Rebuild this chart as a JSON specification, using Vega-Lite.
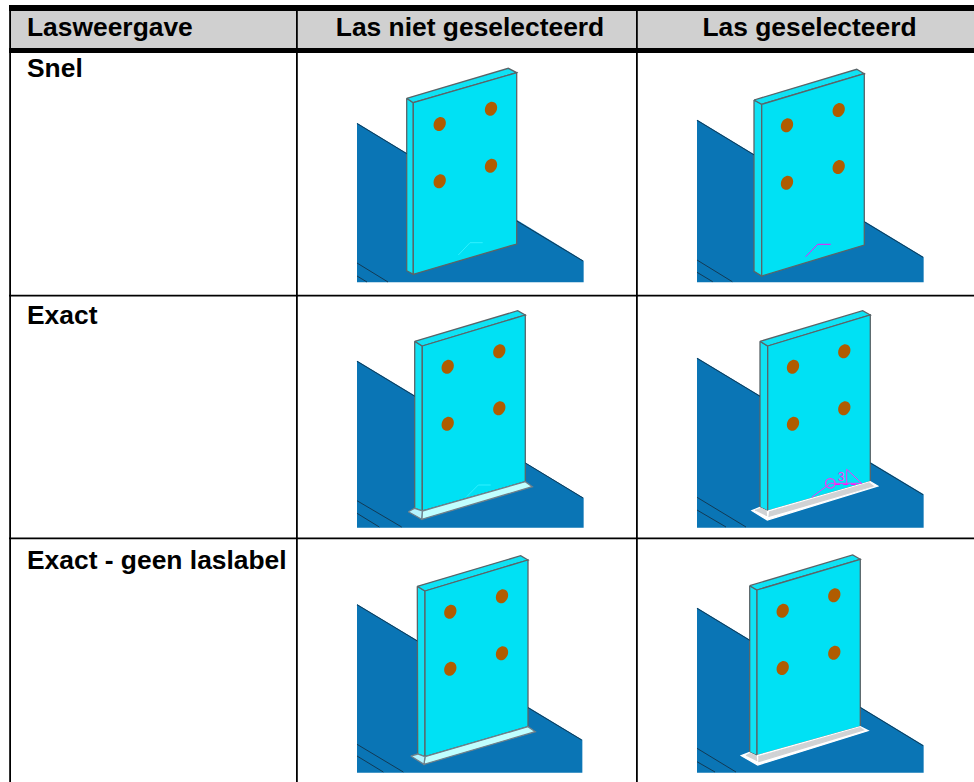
{"$schema":"https://vega.github.io/schema/vega-lite/v6.json","autosize":{"type":"fit","contains":"padding"},"width":974,"height":782,"padding":0,"background":"white","view":{"stroke":null},
"resolve":{"scale":{"fill":"independent","stroke":"independent","color":"independent"}},
"datasets":{
"cells":[
{"part":"kop","x":9,"x2":974,"y":11,"y2":48},
{"part":"lijn","x":9,"x2":974,"y":5,"y2":11},
{"part":"lijn","x":9,"x2":974,"y":48,"y2":53},
{"part":"lijn","x":9,"x2":974,"y":294.7,"y2":296.5},
{"part":"lijn","x":9,"x2":974,"y":537.5,"y2":539.3},
{"part":"lijn","x":9.2,"x2":11,"y":5,"y2":782},
{"part":"lijn","x":296,"x2":297.8,"y":5,"y2":782},
{"part":"lijn","x":636,"x2":637.8,"y":5,"y2":782}
],
"polys":[
{"id":"A0","part":"basis","i":0,"x":357,"y":123.5},{"id":"A0","part":"basis","i":1,"x":583,"y":261},{"id":"A0","part":"basis","i":2,"x":583,"y":281.7},{"id":"A0","part":"basis","i":3,"x":357,"y":281.7},
{"id":"A1","part":"zijkant","i":0,"x":406.7,"y":98.3},{"id":"A1","part":"zijkant","i":1,"x":413.3,"y":102.7},{"id":"A1","part":"zijkant","i":2,"x":413.3,"y":274.3},{"id":"A1","part":"zijkant","i":3,"x":406.7,"y":270.7},{"id":"A1","part":"zijkant","i":4,"x":406.7,"y":98.3},
{"id":"A2","part":"bovenkant","i":0,"x":406.7,"y":98.3},{"id":"A2","part":"bovenkant","i":1,"x":508.3,"y":68.3},{"id":"A2","part":"bovenkant","i":2,"x":516.7,"y":72.7},{"id":"A2","part":"bovenkant","i":3,"x":413.3,"y":102.7},{"id":"A2","part":"bovenkant","i":4,"x":406.7,"y":98.3},
{"id":"A3","part":"voorkant","i":0,"x":413.3,"y":102.7},{"id":"A3","part":"voorkant","i":1,"x":516.7,"y":72.7},{"id":"A3","part":"voorkant","i":2,"x":516.7,"y":244},{"id":"A3","part":"voorkant","i":3,"x":413.3,"y":274.3},{"id":"A3","part":"voorkant","i":4,"x":413.3,"y":102.7},

{"id":"B0","part":"basis","i":0,"x":697,"y":120.3},{"id":"B0","part":"basis","i":1,"x":923,"y":257.3},{"id":"B0","part":"basis","i":2,"x":923,"y":281.7},{"id":"B0","part":"basis","i":3,"x":697,"y":281.7},
{"id":"B1","part":"zijkant","i":0,"x":754,"y":100},{"id":"B1","part":"zijkant","i":1,"x":761.7,"y":104.3},{"id":"B1","part":"zijkant","i":2,"x":761.7,"y":276},{"id":"B1","part":"zijkant","i":3,"x":754,"y":271.3},{"id":"B1","part":"zijkant","i":4,"x":754,"y":100},
{"id":"B2","part":"bovenkant","i":0,"x":754,"y":100},{"id":"B2","part":"bovenkant","i":1,"x":856.7,"y":69.3},{"id":"B2","part":"bovenkant","i":2,"x":864.3,"y":73.7},{"id":"B2","part":"bovenkant","i":3,"x":761.7,"y":104.3},{"id":"B2","part":"bovenkant","i":4,"x":754,"y":100},
{"id":"B3","part":"voorkant","i":0,"x":761.7,"y":104.3},{"id":"B3","part":"voorkant","i":1,"x":864.3,"y":73.7},{"id":"B3","part":"voorkant","i":2,"x":864.3,"y":245},{"id":"B3","part":"voorkant","i":3,"x":761.7,"y":276},{"id":"B3","part":"voorkant","i":4,"x":761.7,"y":104.3},

{"id":"C0","part":"basis","i":0,"x":357,"y":361.3},{"id":"C0","part":"basis","i":1,"x":583,"y":498},{"id":"C0","part":"basis","i":2,"x":583,"y":527},{"id":"C0","part":"basis","i":3,"x":357,"y":527},
{"id":"C1","part":"zijkant","i":0,"x":414.7,"y":341.3},{"id":"C1","part":"zijkant","i":1,"x":422.3,"y":346},{"id":"C1","part":"zijkant","i":2,"x":422.3,"y":511},{"id":"C1","part":"zijkant","i":3,"x":414.7,"y":508.3},{"id":"C1","part":"zijkant","i":4,"x":414.7,"y":341.3},
{"id":"C2","part":"bovenkant","i":0,"x":414.7,"y":341.3},{"id":"C2","part":"bovenkant","i":1,"x":517.7,"y":310.7},{"id":"C2","part":"bovenkant","i":2,"x":525.3,"y":315},{"id":"C2","part":"bovenkant","i":3,"x":422.3,"y":346},{"id":"C2","part":"bovenkant","i":4,"x":414.7,"y":341.3},
{"id":"C3","part":"voorkant","i":0,"x":422.3,"y":346},{"id":"C3","part":"voorkant","i":1,"x":525.3,"y":315},{"id":"C3","part":"voorkant","i":2,"x":525.3,"y":481.7},{"id":"C3","part":"voorkant","i":3,"x":422.3,"y":511},{"id":"C3","part":"voorkant","i":4,"x":422.3,"y":346},
{"id":"C4","part":"las","i":0,"x":422.3,"y":511},{"id":"C4","part":"las","i":1,"x":525.3,"y":481.7},{"id":"C4","part":"las","i":2,"x":532.3,"y":486.7},{"id":"C4","part":"las","i":3,"x":421.7,"y":519.3},{"id":"C4","part":"las","i":4,"x":422.3,"y":511},
{"id":"C5","part":"lasrand","i":0,"x":408.3,"y":511.7},{"id":"C5","part":"lasrand","i":1,"x":414.7,"y":508.3},{"id":"C5","part":"lasrand","i":2,"x":422.3,"y":511},{"id":"C5","part":"lasrand","i":3,"x":421.7,"y":519.3},{"id":"C5","part":"lasrand","i":4,"x":408.3,"y":511.7},

{"id":"D0","part":"basis","i":0,"x":697,"y":358.3},{"id":"D0","part":"basis","i":1,"x":923,"y":494.7},{"id":"D0","part":"basis","i":2,"x":923,"y":527},{"id":"D0","part":"basis","i":3,"x":697,"y":527},
{"id":"D1","part":"zijkant","i":0,"x":760,"y":341.3},{"id":"D1","part":"zijkant","i":1,"x":767.7,"y":346},{"id":"D1","part":"zijkant","i":2,"x":767.7,"y":511},{"id":"D1","part":"zijkant","i":3,"x":760,"y":507.3},{"id":"D1","part":"zijkant","i":4,"x":760,"y":341.3},
{"id":"D2","part":"bovenkant","i":0,"x":760,"y":341.3},{"id":"D2","part":"bovenkant","i":1,"x":862.7,"y":310.7},{"id":"D2","part":"bovenkant","i":2,"x":870.3,"y":315},{"id":"D2","part":"bovenkant","i":3,"x":767.7,"y":346},{"id":"D2","part":"bovenkant","i":4,"x":760,"y":341.3},
{"id":"D3","part":"voorkant","i":0,"x":767.7,"y":346},{"id":"D3","part":"voorkant","i":1,"x":870.3,"y":315},{"id":"D3","part":"voorkant","i":2,"x":870.3,"y":481.7},{"id":"D3","part":"voorkant","i":3,"x":767.7,"y":511},{"id":"D3","part":"voorkant","i":4,"x":767.7,"y":346},
{"id":"D4","part":"laswit","i":0,"x":767.7,"y":511},{"id":"D4","part":"laswit","i":1,"x":870.3,"y":481.7},{"id":"D4","part":"laswit","i":2,"x":877.7,"y":486},{"id":"D4","part":"laswit","i":3,"x":767.3,"y":520},{"id":"D4","part":"laswit","i":4,"x":752,"y":510.7},{"id":"D4","part":"laswit","i":5,"x":760,"y":507.3},
{"id":"D5","part":"lasgrijs","i":0,"x":769,"y":512},{"id":"D5","part":"lasgrijs","i":1,"x":869,"y":483},{"id":"D5","part":"lasgrijs","i":2,"x":873,"y":486},{"id":"D5","part":"lasgrijs","i":3,"x":768.5,"y":516.5},
{"id":"D6","part":"lasgrijs","i":0,"x":755,"y":510.5},{"id":"D6","part":"lasgrijs","i":1,"x":761,"y":508.5},{"id":"D6","part":"lasgrijs","i":2,"x":766,"y":511},{"id":"D6","part":"lasgrijs","i":3,"x":766.5,"y":516},

{"id":"E0","part":"basis","i":0,"x":357,"y":604.7},{"id":"E0","part":"basis","i":1,"x":581.7,"y":740},{"id":"E0","part":"basis","i":2,"x":581.7,"y":772},{"id":"E0","part":"basis","i":3,"x":357,"y":772},
{"id":"E1","part":"zijkant","i":0,"x":417.3,"y":586.3},{"id":"E1","part":"zijkant","i":1,"x":425,"y":591},{"id":"E1","part":"zijkant","i":2,"x":425,"y":756.7},{"id":"E1","part":"zijkant","i":3,"x":417.7,"y":754},{"id":"E1","part":"zijkant","i":4,"x":417.3,"y":586.3},
{"id":"E2","part":"bovenkant","i":0,"x":417.3,"y":586.3},{"id":"E2","part":"bovenkant","i":1,"x":520.7,"y":555.7},{"id":"E2","part":"bovenkant","i":2,"x":528,"y":560},{"id":"E2","part":"bovenkant","i":3,"x":425,"y":591},{"id":"E2","part":"bovenkant","i":4,"x":417.3,"y":586.3},
{"id":"E3","part":"voorkant","i":0,"x":425,"y":591},{"id":"E3","part":"voorkant","i":1,"x":528,"y":560},{"id":"E3","part":"voorkant","i":2,"x":528,"y":726.7},{"id":"E3","part":"voorkant","i":3,"x":425,"y":756.7},{"id":"E3","part":"voorkant","i":4,"x":425,"y":591},
{"id":"E4","part":"las","i":0,"x":425,"y":756.7},{"id":"E4","part":"las","i":1,"x":528,"y":726.7},{"id":"E4","part":"las","i":2,"x":535.3,"y":731.7},{"id":"E4","part":"las","i":3,"x":424,"y":764.3},{"id":"E4","part":"las","i":4,"x":425,"y":756.7},
{"id":"E5","part":"lasrand","i":0,"x":410.7,"y":756},{"id":"E5","part":"lasrand","i":1,"x":417.7,"y":754},{"id":"E5","part":"lasrand","i":2,"x":425,"y":756.7},{"id":"E5","part":"lasrand","i":3,"x":424,"y":764.3},{"id":"E5","part":"lasrand","i":4,"x":410.7,"y":756},

{"id":"F0","part":"basis","i":0,"x":697,"y":608.3},{"id":"F0","part":"basis","i":1,"x":923,"y":745.7},{"id":"F0","part":"basis","i":2,"x":923,"y":772},{"id":"F0","part":"basis","i":3,"x":697,"y":772},
{"id":"F1","part":"zijkant","i":0,"x":749.7,"y":585.7},{"id":"F1","part":"zijkant","i":1,"x":757,"y":590},{"id":"F1","part":"zijkant","i":2,"x":757,"y":755.7},{"id":"F1","part":"zijkant","i":3,"x":749.7,"y":752.3},{"id":"F1","part":"zijkant","i":4,"x":749.7,"y":585.7},
{"id":"F2","part":"bovenkant","i":0,"x":749.7,"y":585.7},{"id":"F2","part":"bovenkant","i":1,"x":852.7,"y":555},{"id":"F2","part":"bovenkant","i":2,"x":860.3,"y":559.3},{"id":"F2","part":"bovenkant","i":3,"x":757,"y":590},{"id":"F2","part":"bovenkant","i":4,"x":749.7,"y":585.7},
{"id":"F3","part":"voorkant","i":0,"x":757,"y":590},{"id":"F3","part":"voorkant","i":1,"x":860.3,"y":559.3},{"id":"F3","part":"voorkant","i":2,"x":860.3,"y":726.7},{"id":"F3","part":"voorkant","i":3,"x":757,"y":755.7},{"id":"F3","part":"voorkant","i":4,"x":757,"y":590},
{"id":"F4","part":"laswit","i":0,"x":757,"y":755.7},{"id":"F4","part":"laswit","i":1,"x":860.3,"y":726.7},{"id":"F4","part":"laswit","i":2,"x":868,"y":730.7},{"id":"F4","part":"laswit","i":3,"x":757.7,"y":765},{"id":"F4","part":"laswit","i":4,"x":741.3,"y":755.7},{"id":"F4","part":"laswit","i":5,"x":749.7,"y":752.3},
{"id":"F5","part":"lasgrijs","i":0,"x":758.3,"y":756.7},{"id":"F5","part":"lasgrijs","i":1,"x":860,"y":727.7},{"id":"F5","part":"lasgrijs","i":2,"x":863.3,"y":730},{"id":"F5","part":"lasgrijs","i":3,"x":758.3,"y":761.7},
{"id":"F6","part":"lasgrijs","i":0,"x":746,"y":755.7},{"id":"F6","part":"lasgrijs","i":1,"x":750,"y":753.7},{"id":"F6","part":"lasgrijs","i":2,"x":756,"y":756},{"id":"F6","part":"lasgrijs","i":3,"x":756.7,"y":761}
],
"edges":[
{"id":"a","part":"zwart","i":0,"x":357,"y":123.5},{"id":"a","part":"zwart","i":1,"x":406.7,"y":153.7},
{"id":"a1","part":"zwart","i":0,"x":516.7,"y":221},{"id":"a1","part":"zwart","i":1,"x":583,"y":261},
{"id":"a2","part":"zwart","i":0,"x":357,"y":263},{"id":"a2","part":"zwart","i":1,"x":388,"y":282},
{"id":"a3","part":"zwart","i":0,"x":357,"y":276},{"id":"a3","part":"zwart","i":1,"x":367,"y":282},
{"id":"b","part":"zwart","i":0,"x":697,"y":120.3},{"id":"b","part":"zwart","i":1,"x":754,"y":154.9},
{"id":"b1","part":"zwart","i":0,"x":864.3,"y":221.8},{"id":"b1","part":"zwart","i":1,"x":923,"y":257.3},
{"id":"b2","part":"zwart","i":0,"x":697,"y":260},{"id":"b2","part":"zwart","i":1,"x":732.3,"y":281.7},
{"id":"b3","part":"zwart","i":0,"x":697,"y":272.3},{"id":"b3","part":"zwart","i":1,"x":712.7,"y":281.7},
{"id":"c","part":"zwart","i":0,"x":357,"y":361.3},{"id":"c","part":"zwart","i":1,"x":414.7,"y":396.2},
{"id":"c1","part":"zwart","i":0,"x":525.3,"y":463},{"id":"c1","part":"zwart","i":1,"x":583,"y":498},
{"id":"c2","part":"zwart","i":0,"x":357,"y":500.7},{"id":"c2","part":"zwart","i":1,"x":401.7,"y":527},
{"id":"c3","part":"zwart","i":0,"x":357,"y":513.3},{"id":"c3","part":"zwart","i":1,"x":379.3,"y":527},
{"id":"d","part":"zwart","i":0,"x":697,"y":358.3},{"id":"d","part":"zwart","i":1,"x":760,"y":396.3},
{"id":"d1","part":"zwart","i":0,"x":870.3,"y":463},{"id":"d1","part":"zwart","i":1,"x":923,"y":494.7},
{"id":"d2","part":"zwart","i":0,"x":697,"y":497.3},{"id":"d2","part":"zwart","i":1,"x":746,"y":527},
{"id":"d3","part":"zwart","i":0,"x":697,"y":510},{"id":"d3","part":"zwart","i":1,"x":726,"y":527},
{"id":"e","part":"zwart","i":0,"x":357,"y":604.7},{"id":"e","part":"zwart","i":1,"x":417.3,"y":641},
{"id":"e1","part":"zwart","i":0,"x":528,"y":707.7},{"id":"e1","part":"zwart","i":1,"x":581.7,"y":740},
{"id":"e2","part":"zwart","i":0,"x":357,"y":744.3},{"id":"e2","part":"zwart","i":1,"x":403.3,"y":772},
{"id":"e3","part":"zwart","i":0,"x":357,"y":756},{"id":"e3","part":"zwart","i":1,"x":383.3,"y":772},
{"id":"f","part":"zwart","i":0,"x":697,"y":608.3},{"id":"f","part":"zwart","i":1,"x":749.7,"y":640.3},
{"id":"f1","part":"zwart","i":0,"x":860.3,"y":707.5},{"id":"f1","part":"zwart","i":1,"x":923,"y":745.7},
{"id":"f2","part":"zwart","i":0,"x":697,"y":748.3},{"id":"f2","part":"zwart","i":1,"x":736,"y":772},
{"id":"f3","part":"zwart","i":0,"x":697,"y":761.7},{"id":"f3","part":"zwart","i":1,"x":715,"y":772},
{"id":"g","part":"cyaan","i":0,"x":458.3,"y":255},{"id":"g","part":"cyaan","i":1,"x":470,"y":242.7},{"id":"g","part":"cyaan","i":2,"x":482.7,"y":242.7},
{"id":"h","part":"cyaan","i":0,"x":466.7,"y":496.7},{"id":"h","part":"cyaan","i":1,"x":478.3,"y":485},{"id":"h","part":"cyaan","i":2,"x":490.7,"y":485},
{"id":"i","part":"magenta","i":0,"x":805.7,"y":256.7},{"id":"i","part":"magenta","i":1,"x":817.7,"y":244.3},{"id":"i","part":"magenta","i":2,"x":830.7,"y":244.3},
{"id":"j","part":"magentadun","i":0,"x":811.7,"y":497.3},{"id":"j","part":"magentadun","i":1,"x":830.3,"y":483.3},{"id":"j","part":"magentadun","i":2,"x":861.7,"y":483.3},{"id":"j","part":"magentadun","i":3,"x":846.7,"y":469.3},{"id":"j","part":"magentadun","i":4,"x":846.7,"y":483.3},
{"id":"k","part":"magenta","i":0,"x":835,"y":484.5},{"id":"k","part":"magenta","i":1,"x":840,"y":484.5},
{"id":"l","part":"magenta","i":0,"x":843,"y":484.5},{"id":"l","part":"magenta","i":1,"x":848,"y":484.5},
{"id":"m","part":"magenta","i":0,"x":851,"y":484.5},{"id":"m","part":"magenta","i":1,"x":856,"y":484.5}
],
"holes":[
{"x":439.7,"y":124},{"x":491,"y":108.7},{"x":439.7,"y":181.3},{"x":491,"y":165.7},
{"x":787,"y":125.3},{"x":838.7,"y":110},{"x":787,"y":182.7},{"x":838.7,"y":167},
{"x":447.7,"y":366.7},{"x":499.3,"y":351.3},{"x":447.7,"y":423.7},{"x":499.3,"y":408.3},
{"x":793,"y":366.7},{"x":844.3,"y":351.3},{"x":793,"y":423.7},{"x":844.3,"y":408.3},
{"x":450.3,"y":611.7},{"x":502,"y":596.3},{"x":450.3,"y":668.7},{"x":502,"y":653.3},
{"x":782.7,"y":610.7},{"x":834.3,"y":595.3},{"x":782.7,"y":668},{"x":834.3,"y":652.7}
],
"heads":[{"t":"Las niet geselecteerd","x":470,"y":36},{"t":"Las geselecteerd","x":809.5,"y":36}],
"labels":[{"t":"Lasweergave","x":27,"y":36},{"t":"Snel","x":27,"y":77},{"t":"Exact","x":27,"y":323.5},{"t":"Exact - geen laslabel","x":27,"y":569}],
"weld":[{"t":"3","x":841,"y":481}],
"circ":[{"x":830.3,"y":483.3}]
},
"layer":[
{"data":{"name":"cells"},"mark":{"type":"rect"},"encoding":{
"x":{"field":"x","type":"quantitative","scale":{"domain":[0,974],"nice":false,"zero":false},"axis":null},"x2":{"field":"x2"},
"y":{"field":"y","type":"quantitative","scale":{"domain":[782,0],"nice":false,"zero":false},"axis":null},"y2":{"field":"y2"},
"fill":{"field":"part","type":"nominal","legend":null,"scale":{"domain":["kop","lijn"],"range":["#d0d0d0","#000000"]}}}},
{"data":{"name":"polys"},"mark":{"type":"line","strokeWidth":1.3,"interpolate":"linear"},"encoding":{
"x":{"field":"x","type":"quantitative","axis":null},
"y":{"field":"y","type":"quantitative","axis":null},
"detail":{"field":"id"},"order":{"field":"i"},
"fill":{"field":"part","type":"nominal","legend":null,"scale":{"domain":["basis","zijkant","bovenkant","voorkant","las","lasrand","laswit","lasgrijs"],"range":["#0a75b5","#0fe2f4","#0fe2f4","#00e1f4","#c0ffff","#b4f4ff","#ffffff","#d0d2d4"]}},
"stroke":{"field":"part","type":"nominal","legend":null,"scale":{"domain":["basis","zijkant","bovenkant","voorkant","las","lasrand","laswit","lasgrijs"],"range":["#0a75b5","#5a6468","#5a6468","#5a6468","#70808a","#70808a","#ffffff","#d0d2d4"]}}}},
{"data":{"name":"edges"},"mark":{"type":"line","interpolate":"linear"},"encoding":{
"x":{"field":"x","type":"quantitative","axis":null},
"y":{"field":"y","type":"quantitative","axis":null},
"detail":{"field":"id"},"order":{"field":"i"},
"color":{"field":"part","type":"nominal","legend":null,"scale":{"domain":["zwart","cyaan","magenta","magentadun"],"range":["#123a55","#30f0ff","#ff10f8","#ff30f0"]}},
"strokeWidth":{"field":"part","type":"nominal","legend":null,"scale":{"domain":["zwart","cyaan","magenta","magentadun"],"range":[1,1,2,1.3]}}}},
{"data":{"name":"holes"},"mark":{"type":"point","filled":true,"color":"#b05c00","opacity":1,"size":205,"shape":"M -0.42 0.906 A 1 0.78 -65 1 1 0.42 -0.906 A 1 0.78 -65 1 1 -0.42 0.906 Z"},"encoding":{
"x":{"field":"x","type":"quantitative","axis":null},
"y":{"field":"y","type":"quantitative","axis":null}}},
{"data":{"name":"circ"},"mark":{"type":"point","filled":false,"color":"#ff30f0","opacity":1,"size":90,"shape":"circle","strokeWidth":1.3},"encoding":{
"x":{"field":"x","type":"quantitative","axis":null},
"y":{"field":"y","type":"quantitative","axis":null}}},
{"data":{"name":"heads"},"mark":{"type":"text","font":"Liberation Sans","fontWeight":"bold","fontSize":26.4,"align":"center","baseline":"alphabetic","color":"#000000"},"encoding":{
"x":{"field":"x","type":"quantitative","axis":null},
"y":{"field":"y","type":"quantitative","axis":null},
"text":{"field":"t"}}},
{"data":{"name":"labels"},"mark":{"type":"text","font":"Liberation Sans","fontWeight":"bold","fontSize":26.4,"align":"left","baseline":"alphabetic","color":"#000000"},"encoding":{
"x":{"field":"x","type":"quantitative","axis":null},
"y":{"field":"y","type":"quantitative","axis":null},
"text":{"field":"t"}}},
{"data":{"name":"weld"},"mark":{"type":"text","font":"Liberation Sans","fontSize":12,"align":"center","baseline":"alphabetic","color":"#ff30f0"},"encoding":{
"x":{"field":"x","type":"quantitative","axis":null},
"y":{"field":"y","type":"quantitative","axis":null},
"text":{"field":"t"}}}
],
"config":{"style":{"cell":{"stroke":null}}}}
